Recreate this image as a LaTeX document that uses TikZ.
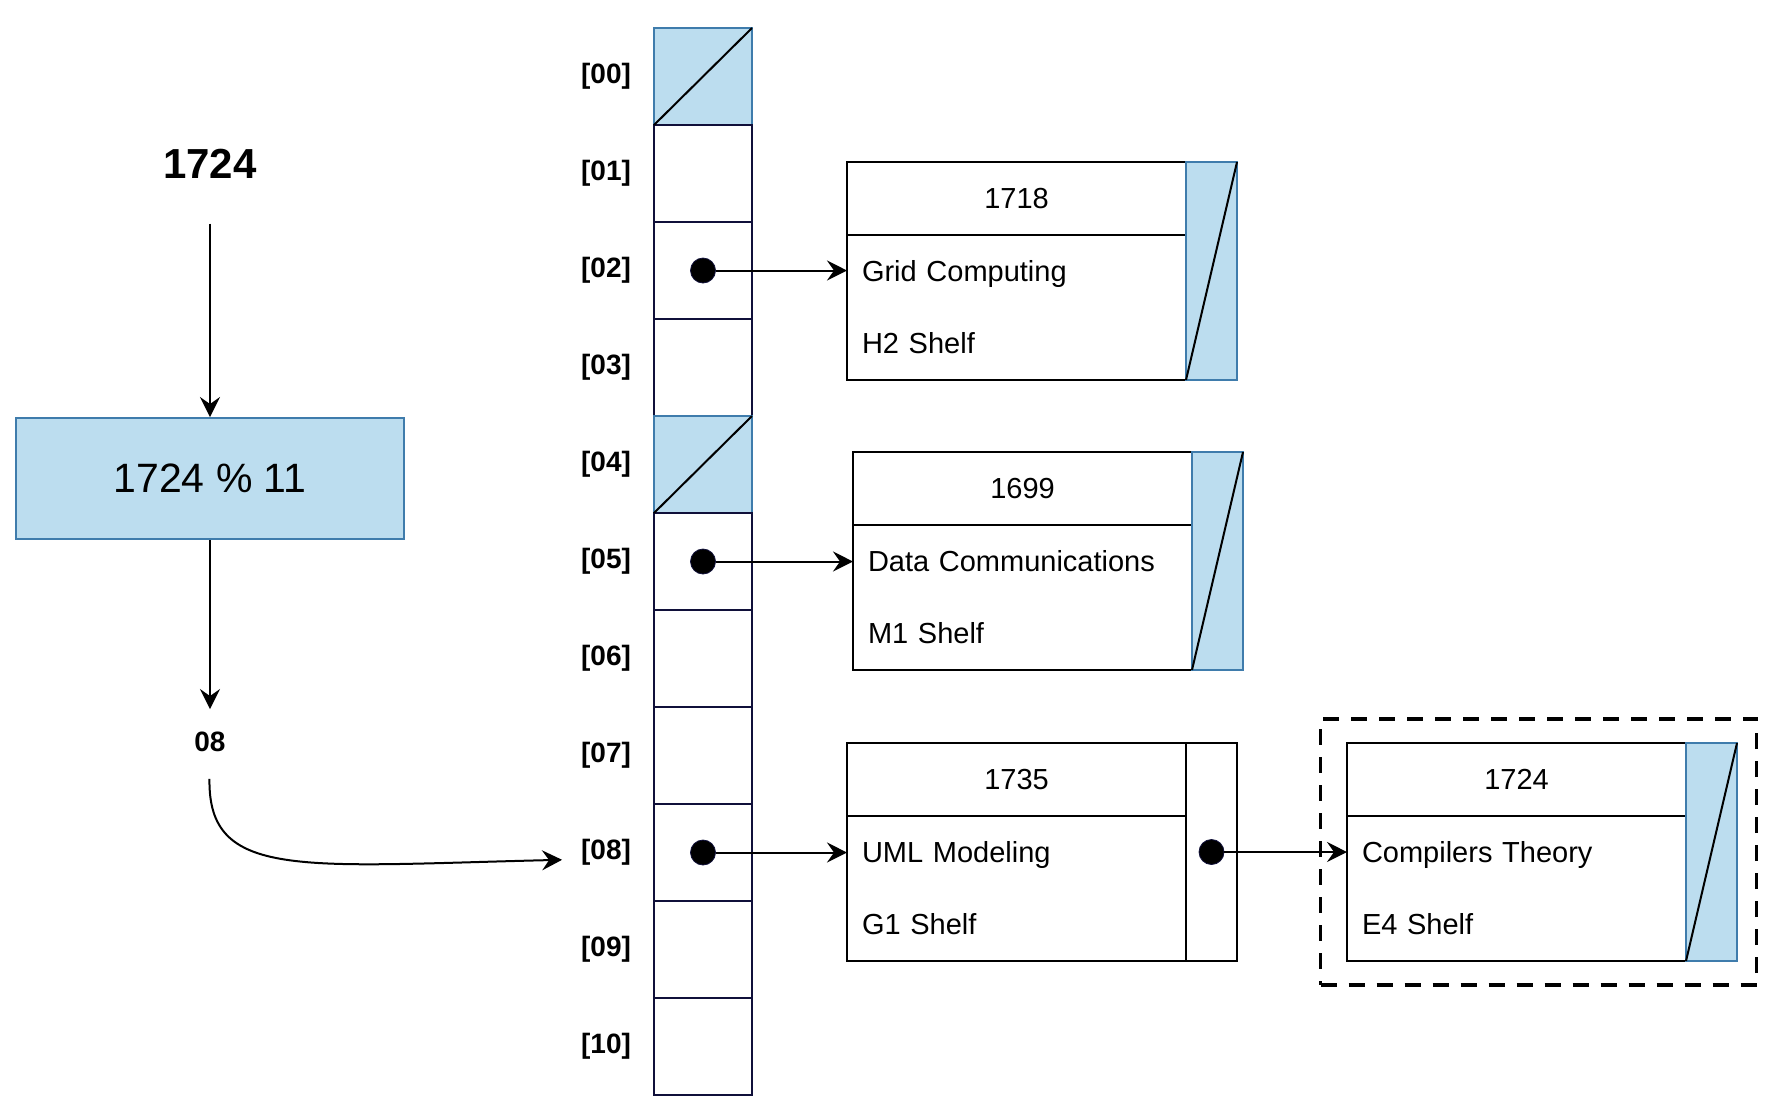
\documentclass[tikz,border=0pt]{standalone}
\usepackage{fontspec}
\setmainfont{Liberation Sans}
\usepackage{tikz}
\usetikzlibrary{positioning}
\usetikzlibrary{arrows.meta,fit}
\definecolor{lblue}{HTML}{BCDDEF}
\definecolor{dblue}{HTML}{3F7CAC}
\definecolor{navy}{HTML}{10103A}

\begin{document}
\begin{tikzpicture}[x=0.5pt,y=-0.5pt]
\tikzstyle{cell}=[draw=navy,line width=1pt,minimum width=49pt,minimum height=48.5pt,inner sep=0pt,outer sep=0pt]
\tikzstyle{bcell}=[cell,draw=dblue,fill=lblue]
\tikzstyle{lbl}=[font=\fontsize{14}{17}\selectfont\bfseries]
\tikzstyle{dot}=[circle,fill=black,draw=navy,minimum size=12.5pt,inner sep=0pt]
\tikzstyle{head}=[draw,line width=1pt,minimum width=169.5pt,minimum height=36.5pt,inner sep=0pt,outer sep=0pt,font=\fontsize{14.5}{17.4}\selectfont]
\tikzstyle{body}=[draw,line width=1pt,minimum height=72.5pt,text width=154.5pt,inner xsep=7.5pt,inner ysep=0pt,outer sep=0pt,align=left,font=\fontsize{14.5}{17.4}\selectfont]
\tikzstyle{ptr}=[draw,line width=1pt,minimum width=25.5pt,minimum height=109pt,inner sep=0pt,outer sep=0pt]
\tikzstyle{nptr}=[ptr,draw=dblue,fill=lblue]
\tikzstyle{arr}=[-{Stealth[length=10pt,width=10pt,inset=3.5pt]},line width=1pt]
\useasboundingbox (0,0) rectangle (1778,1116);

\node[font=\fontsize{21}{25}\selectfont\bfseries] (KEY) at (210,164) {1724};
\node[draw=dblue,fill=lblue,line width=1pt,minimum width=194pt,minimum height=60.5pt,font=\fontsize{20.5}{24}\selectfont] (HASH) at (210,478.5) {1724 \% 11};
\node[lbl] (IDX) at (210,742) {08};
\draw[arr,shorten <=19pt] (KEY) -- (HASH);
\draw[arr,shorten >=8pt] (HASH) -- (IDX);

\foreach \i/\st in {0/bcell,1/cell,2/cell,3/cell,4/bcell,5/cell,6/cell,7/cell,8/cell,9/cell,10/cell} {
  \node[\st] (C\i) at (703,{76.5+97*\i}) {};
  \node[lbl,left=8pt of C\i] (L\i) {[\ifnum\i<10 0\fi\i]};
}
\draw[line width=1pt] (C0.south west) -- (C0.north east);
\draw[line width=1pt] (C4.south west) -- (C4.north east);

\draw[arr,shorten <=10pt,shorten >=6pt] (IDX) .. controls (208,880) and (300,866) .. ([yshift=-3.5pt]L8.west);

\node[head,anchor=north west] (R1H) at (847,162) {1718};
\node[body,below=0pt of R1H] (R1B) {Grid Computing\\[18.5pt]H2 Shelf};
\node[nptr,anchor=north west] (R1P) at (R1H.north east) {};
\draw[line width=1pt] (R1P.south west) -- (R1P.north east);

\node[head,anchor=north west] (R2H) at (853,452) {1699};
\node[body,below=0pt of R2H] (R2B) {Data Communications\\[18.5pt]M1 Shelf};
\node[nptr,anchor=north west] (R2P) at (R2H.north east) {};
\draw[line width=1pt] (R2P.south west) -- (R2P.north east);

\node[head,anchor=north west] (R3H) at (847,743) {1735};
\node[body,below=0pt of R3H] (R3B) {UML Modeling\\[18.5pt]G1 Shelf};
\node[ptr,anchor=north west] (R3P) at (R3H.north east) {};

\node[head,anchor=north west] (R4H) at (1347,743) {1724};
\node[body,below=0pt of R4H] (R4B) {Compilers Theory\\[18.5pt]E4 Shelf};
\node[nptr,anchor=north west] (R4P) at (R4H.north east) {};
\draw[line width=1pt] (R4P.south west) -- (R4P.north east);

\foreach \r/\b in {2/R1B,5/R2B,8/R3B} {
  \node[dot] (D\r) at (C\r) {};
  \draw[arr] (D\r) -- (D\r -| \b.west);
}
\node[dot] (DR) at (R3P) {};
\draw[arr] (DR) -- (DR -| R4B.west);

\node[draw,line width=1.8pt,dash pattern=on 8pt off 6pt,inner xsep=11.5pt,inner ysep=12pt,xshift=-1.7pt,fit=(R4H)(R4B)(R4P)] (SEL) {};
\end{tikzpicture}
\end{document}
